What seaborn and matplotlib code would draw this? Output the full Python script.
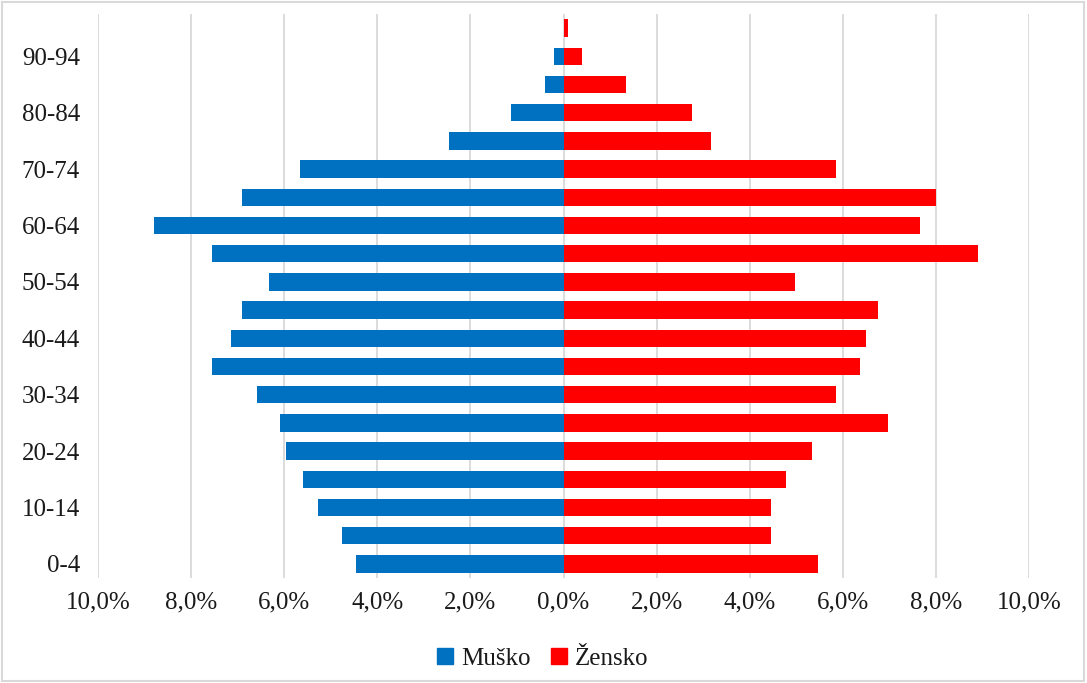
import numpy as np, pandas as pd
import matplotlib; matplotlib.use('Agg')
import matplotlib.pyplot as plt
from matplotlib.patches import Rectangle
from matplotlib.ticker import FuncFormatter
import seaborn as sns

AGES=['0-4','5-9','10-14','15-19','20-24','25-29','30-34','35-39','40-44','45-49',
      '50-54','55-59','60-64','65-69','70-74','75-79','80-84','85-89','90-94','95+']
MALE=[4.45,4.76,5.27,5.59,5.96,6.09,6.59,7.55,7.14,6.91,
      6.33,7.55,8.79,6.91,5.65,2.47,1.13,0.39,0.21,0.0]
FEMALE=[5.47,4.46,4.46,4.77,5.34,6.98,5.85,6.38,6.50,6.75,
        4.97,8.91,7.66,8.00,5.85,3.17,2.76,1.35,0.40,0.10]
SEX=['Muško','Žensko']
COLORS={'Muško':'#0070C0','Žensko':'#FF0000'}

df=pd.concat([pd.DataFrame({'age':AGES,'pct':[-v for v in MALE],'sex':SEX[0]}),
              pd.DataFrame({'age':AGES,'pct':FEMALE,'sex':SEX[1]})])

sns.set_style('white')
plt.rcParams['font.family']=['Liberation Serif','DejaVu Serif']
fig=plt.figure(figsize=(10.87,6.83),dpi=100)
ax=fig.add_axes([98/1087,1-578/683,(1029-98)/1087,(578-14)/683])

order=AGES[::-1]   # 0-4 at the bottom
sns.barplot(data=df,x='pct',y='age',hue='sex',order=order,hue_order=SEX,palette=COLORS,
            dodge=False,width=0.62,orient='h',ax=ax,legend=False,saturation=1,
            edgecolor='none',zorder=3)

ax.set_xlim(-10,10); ax.set_ylim(len(AGES)-0.5,-0.5)
ax.set_xticks(np.arange(-10,10.1,2))
ax.xaxis.set_major_formatter(FuncFormatter(lambda v,p: f'{abs(v):.1f}%'.replace('.',',')))
ax.set_yticks(range(len(order)))
ax.set_yticklabels([a if a in AGES[0::2] else '' for a in order])
ax.grid(axis='x',color='#D9D9D9',linewidth=1.3,zorder=0)
ax.set_axisbelow(True)
for s in ax.spines.values(): s.set_visible(False)
ax.tick_params(axis='both',length=0,labelsize=18,colors='#1a1a1a')
ax.tick_params(axis='y',pad=13); ax.tick_params(axis='x',pad=10)
ax.set_xlabel(''); ax.set_ylabel('')

handles=[Rectangle((0,0),1,1,color=COLORS[s]) for s in SEX]
fig.legend(handles,SEX,loc='center',bbox_to_anchor=(543/1087,1-659/683),ncol=2,frameon=False,
           fontsize=18,labelcolor='#1a1a1a',handlelength=0.62,handleheight=0.62,
           handletextpad=0.35,columnspacing=0.8)

fig.patches.append(Rectangle((0.002,0.003),0.995,0.994,transform=fig.transFigure,
                             fill=False,edgecolor='#D9D9D9',linewidth=1.5))
fig.savefig('out.png',dpi=100)
